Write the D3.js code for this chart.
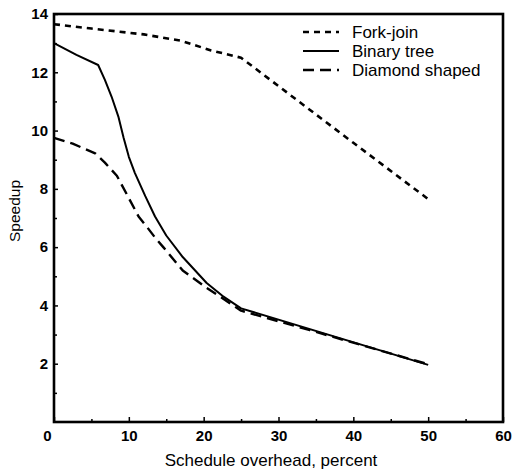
<!DOCTYPE html>
<html>
<head>
<meta charset="utf-8">
<script src="https://cdn.jsdelivr.net/npm/d3@7"></script>
<style>
  body { margin: 0; background: #fff; }
  text { font-family: "Liberation Sans", Arial, sans-serif; fill: #000; }
</style>
</head>
<body>
<div id="chart"></div>
<script>
// data
const forkX = [0, 5, 12, 17, 21, 25, 40, 50];
const forkY = [13.65, 13.5, 13.3, 13.08, 12.75, 12.5, 9.58, 7.65];

const treeX = [0, 3, 5.9, 6.8, 7.7, 8.6, 9.3, 10, 10.8, 12.2, 13.5, 15, 17.2, 20.4, 22.5, 25, 50];
const treeY = [13.0, 12.6, 12.25, 11.74, 11.16, 10.48, 9.75, 9.1, 8.55, 7.75, 7.05, 6.4, 5.66, 4.77, 4.33, 3.9, 1.96];

const diamondX = [0, 2.5, 5.5, 6.8, 8.4, 9.9, 11.3, 12.4, 13.5, 14.6, 17.2, 20.4, 22.2, 25, 34.2, 50];
const diamondY = [9.75, 9.55, 9.22, 8.9, 8.45, 7.73, 7.05, 6.7, 6.33, 6.0, 5.2, 4.6, 4.3, 3.82, 3.15, 1.98];

const xTicks = [0, 10, 20, 30, 40, 50, 60];
const yTicks = [2, 4, 6, 8, 10, 12, 14];

const seriesNames = ["Fork-join", "Binary tree", "Diamond shaped"];

function chart() {
  var w = 522;
  var h = 476;
  var margin = { left: 54, right: 19, top: 14, bottom: 54 };

  var svg = d3
    .select("#chart")
    .append("svg")
    .attr("width", w)
    .attr("height", h);

  var x = d3.scaleLinear().domain([0, 60]).range([margin.left, w - margin.right]);
  var y = d3.scaleLinear().domain([0, 14]).range([h - margin.bottom, margin.top]);

  // dash style for each series
  var dashes = ["6,5", null, "11,6"];
  var widths = [2.6, 2, 2.4];

  var series = [
    forkX.map((v, i) => [v, forkY[i]]),
    treeX.map((v, i) => [v, treeY[i]]),
    diamondX.map((v, i) => [v, diamondY[i]]),
  ];

  var line = d3
    .line()
    .x((d) => x(d[0]))
    .y((d) => y(d[1]))
    .curve(d3.curveLinear);

  svg
    .append("g")
    .selectAll("path")
    .data(series)
    .enter()
    .append("path")
    .attr("d", line)
    .attr("fill", "none")
    .attr("stroke", "#000")
    .attr("stroke-width", (d, i) => widths[i])
    .attr("stroke-linejoin", "round")
    .attr("stroke-dasharray", (d, i) => dashes[i]);

  // frame
  svg
    .append("rect")
    .attr("x", x(0))
    .attr("y", y(14))
    .attr("width", x(60) - x(0))
    .attr("height", y(0) - y(14))
    .attr("fill", "none")
    .attr("stroke", "#000")
    .attr("stroke-width", 2.6);

  // x axis (ticks point inward)
  var xAxis = d3
    .axisBottom(x)
    .tickValues(d3.range(0, 61, 5))
    .tickSize(-4)
    .tickFormat((d) => (xTicks.includes(d) ? d : ""));
  var gx = svg
    .append("g")
    .attr("transform", "translate(0," + y(0) + ")")
    .call(xAxis);
  gx.select(".domain").remove();
  gx.selectAll("line").attr("stroke-width", 1.5).attr("y2", (d) => (d % 10 === 0 ? -5 : -3));
  gx.selectAll("text")
    .attr("y", 8)
    .attr("dy", "0.71em")
    .style("font-size", "15px")
    .style("font-weight", "bold")
    .attr("dx", (d) => (d === 0 ? -7 : 0));

  // y axis
  var yAxis = d3
    .axisLeft(y)
    .tickValues(d3.range(1, 15, 1))
    .tickSize(-4)
    .tickFormat((d) => (yTicks.includes(d) ? d : ""));
  var gy = svg
    .append("g")
    .attr("transform", "translate(" + x(0) + ",0)")
    .call(yAxis);
  gy.select(".domain").remove();
  gy.selectAll("line").attr("stroke-width", 1.5).attr("x2", (d) => (d % 2 === 0 ? 4 : 3));
  gy.selectAll("text")
    .attr("x", -6)
    .style("font-size", "15px")
    .style("font-weight", "bold");

  // axis titles
  svg
    .append("text")
    .attr("x", 271)
    .attr("y", 466)
    .attr("text-anchor", "middle")
    .style("font-size", "17px")
    .text("Schedule overhead, percent");

  svg
    .append("text")
    .attr("transform", "translate(20," + 211 + ") rotate(-90)")
    .attr("text-anchor", "middle")
    .style("font-size", "15.5px")
    .text("Speedup");

  // legend
  var legend = svg
    .append("g")
    .selectAll("g")
    .data(seriesNames)
    .enter()
    .append("g")
    .attr("transform", (d, i) => "translate(303," + (32 + i * 19) + ")");

  legend
    .append("line")
    .attr("x1", 0)
    .attr("x2", 36)
    .attr("stroke", "#000")
    .attr("stroke-width", (d, i) => widths[i])
    .attr("stroke-dasharray", (d, i) => dashes[i]);

  legend
    .append("text")
    .attr("x", 49)
    .attr("dy", "0.35em")
    .style("font-size", "17px")
    .text((d) => d);
}

chart();
</script>
</body>
</html>
